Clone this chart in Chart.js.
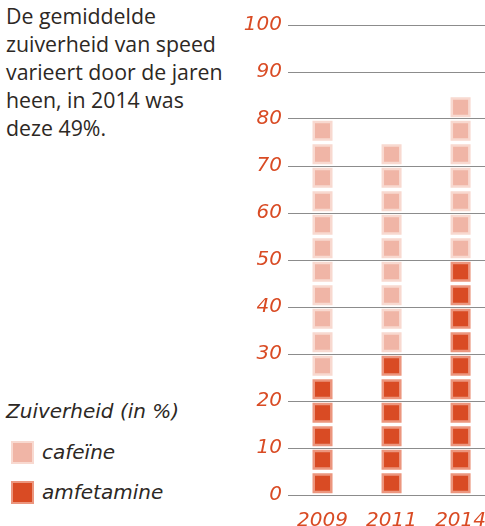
<!DOCTYPE html>
<html>
<head>
<meta charset="utf-8">
<script src="https://cdn.jsdelivr.net/npm/chart.js@4"></script>
<style>
  html, body { margin: 0; padding: 0; background: #fff; overflow: hidden; }
  body { width: 485px; height: 526px; position: relative; font-family: 'Open Sans', sans-serif; }
  .intro { position: absolute; left: 6px; top: 2px; font-size: 21.3px; line-height: 28px; color: #2d2824; }
  .legend { position: absolute; left: 6px; top: 396px; font-family: 'DejaVu Sans', sans-serif; font-size: 20px; font-style: italic; color: #2d2824; }
  .legend .title { line-height: 30px; margin-bottom: 6px; }
  .legend .item { display: flex; align-items: center; height: 40px; }
  .legend .box { width: 19px; height: 19px; border: 2px solid; margin: 0 8px 0 5px; }
  #wrap { position: absolute; left: 230px; top: 0; width: 280px; height: 550px; }
</style>
</head>
<body>
<div class="intro">De gemiddelde<br>zuiverheid van speed<br>varieert door de jaren<br>heen, in 2014 was<br>deze 49%.</div>
<div class="legend" id="legend"><div class="title">Zuiverheid (in %)</div></div>
<div id="wrap"><canvas id="chart" width="280" height="550"></canvas></div>
<script>
const years = ['2009', '2011', '2014'];
const amfetamine = [25, 30, 50];   // zuiverheid amfetamine
const cafeine = [80, 75, 85];      // bovenkant cafeïne-stapel
const yTicks = [0, 10, 20, 30, 40, 50, 60, 70, 80, 90, 100];
const step = 5;                    // elk blokje = 5%

const orange = '#d94b24';
const colors = {
  cafeine: { fill: '#f0b5a6', border: '#f8d9d0' },
  amfetamine: { fill: '#d94b24', border: '#ec967e' },
};

// one point per block of 5%, centred in its band
function blocks(from, to, label) {
  const pts = [];
  for (let v = from; v < to; v += step) pts.push({ x: label, y: v + step / 2 });
  return pts;
}

const amfPoints = [], cafPoints = [];
years.forEach((y, i) => {
  amfPoints.push(...blocks(0, amfetamine[i], y));
  cafPoints.push(...blocks(amfetamine[i], cafeine[i], y));
});

function blockSet(label, data, c) {
  return {
    label,
    data,
    showLine: false,
    pointStyle: 'rect',
    pointRadius: 12.4,
    pointHoverRadius: 12.4,
    backgroundColor: c.fill,
    borderColor: c.border,
    borderWidth: 2.5,
  };
}

// legend in the lower left corner
const legend = document.getElementById('legend');
[['cafeïne', colors.cafeine], ['amfetamine', colors.amfetamine]].forEach(([name, c]) => {
  const el = document.createElement('div');
  el.className = 'item';
  el.innerHTML = `<span class="box" style="background:${c.fill};border-color:${c.border}"></span>${name}`;
  legend.appendChild(el);
});

const tickFont = { family: 'DejaVu Sans', style: 'italic', size: 20 };

new Chart(document.getElementById('chart'), {
  type: 'line',
  data: {
    labels: years,
    datasets: [
      blockSet('cafeïne', cafPoints, colors.cafeine),
      blockSet('amfetamine', amfPoints, colors.amfetamine),
    ],
  },
  options: {
    responsive: false,
    animation: false,
    layout: { padding: { top: 25, right: 0, left: 0, bottom: 0 } },
    plugins: { legend: { display: false }, tooltip: { enabled: false } },
    scales: {
      x: {
        type: 'category',
        offset: true,
        grid: { display: false },
        border: { display: false },
        ticks: { color: orange, font: tickFont, padding: 6 },
        afterFit: (axis) => { axis.height = 55; },
      },
      y: {
        min: 0,
        max: 100,
        afterBuildTicks: (axis) => { axis.ticks = yTicks.map(v => ({ value: v })); },
        grid: { color: '#8c8c8c', lineWidth: 1, drawTicks: false },
        border: { display: false },
        ticks: { color: orange, font: tickFont, padding: 6 },
        afterFit: (axis) => { axis.width = 58; },
      },
    },
  },
});
</script>
</body>
</html>
